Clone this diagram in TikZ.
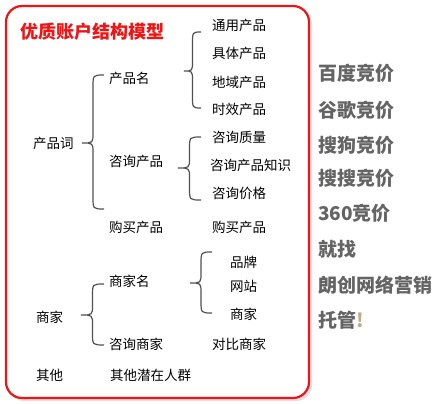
\documentclass[tikz,border=0pt]{standalone}
\usepackage{fontspec}
\setmainfont{Noto Sans CJK SC}
\newfontfamily\cjk{Noto Sans CJK SC}
\definecolor{boxred}{RGB}{240,20,20}
\definecolor{bracegray}{RGB}{80,80,80}
\definecolor{sidegray}{RGB}{100,100,100}
\definecolor{tan}{RGB}{190,170,140}
\newcommand\mybrace[6]{% name, xtip, xend, ytop, ymid, ybot
  \path[bracestyle] (#3,#4) .. controls ({(#2+#3)/2},#4) .. ({(#2+#3)/2},#4+12)
    -- ({(#2+#3)/2},#5-10) .. controls ({(#2+#3)/2},#5) .. (#2,#5)
    .. controls ({(#2+#3)/2},#5) .. ({(#2+#3)/2},#5+10)
    -- ({(#2+#3)/2},#6-12) .. controls ({(#2+#3)/2},#6) .. (#3,#6);
  \coordinate (#1) at (#2,#5);}
\tikzset{
  bracestyle/.style={draw=bracegray,line width=1.2pt},
  lbl/.style={anchor=west,inner sep=0pt,font=\cjk\fontsize{13.5}{14}\selectfont,text=black},
  side/.style={anchor=west,inner sep=0pt,font=\cjk\bfseries\fontsize{19}{20}\selectfont,text=sidegray},
}
\begin{document}
\begin{tikzpicture}[x=1pt,y=-1pt]
\useasboundingbox (0,0) rectangle (440,404);
\fill[white] (0,0) rectangle (440,404);
% shadow and frame
\fill[black!12,rounded corners=16pt] (8,8) rectangle (312,401);
\draw[boxred,line width=2.2pt,fill=white,rounded corners=16pt] (6,6) rectangle (309,398);
\node[anchor=west,inner sep=0pt,font=\cjk\bfseries\fontsize{18}{18}\selectfont,text=boxred] (title) at (20,32) {优质账户结构模型};
% level 1
\node[lbl] (cpc) at (33,143) {产品词};
\node[lbl] (sj) at (36,317) {商家};
\node[lbl] (qt) at (36,375) {其他};
% level 2
\node[lbl] (cpm) at (109,78) {产品名};
\node[lbl] (zxcp) at (109,161) {咨询产品};
\node[lbl] (gmcp) at (109,227) {购买产品};
\node[lbl] (sjm) at (109,281) {商家名};
\node[lbl] (zxsj) at (109,344) {咨询商家};
\node[lbl] (qtrq) at (110,375) {其他潜在人群};
% level 3
\node[lbl] (tycp) at (212,25) {通用产品};
\node[lbl] (jtcp) at (212,53) {具体产品};
\node[lbl] (dycp) at (212,82) {地域产品};
\node[lbl] (sxcp) at (212,109) {时效产品};
\node[lbl] (zxzl) at (212,137) {咨询质量};
\node[lbl] (zxzs) at (210,165) {咨询产品知识};
\node[lbl] (zxjg) at (212,193) {咨询价格};
\node[lbl] (gmcp2) at (212,227) {购买产品};
\node[lbl] (pp) at (230,262) {品牌};
\node[lbl] (wz) at (230,286) {网站};
\node[lbl] (sj2) at (230,314) {商家};
\node[lbl] (dbsj) at (212,344) {对比商家};
% braces
\mybrace{b1}{82}{104}{75}{143}{209}
\mybrace{b2}{184}{201}{32}{71}{108}
\mybrace{b3}{178}{201}{137}{168}{200}
\mybrace{b4}{190}{212}{252}{283}{313}
\mybrace{b5}{81}{104}{284}{315}{345}
% side text
\node[side] (s1) at (318,73) {百度竞价};
\node[side] (s2) at (318,110) {谷歌竞价};
\node[side] (s3) at (318,145) {搜狗竞价};
\node[side] (s4) at (318,178) {搜搜竞价};
\node[side] (s5) at (318,213) {360竞价};
\node[side] (s6) at (318,249) {就找};
\node[side] (s7) at (318,285) {朗创网络营销};
\node[side] (s8) at (318,320) {托管\textcolor{tan}{!}};
\end{tikzpicture}
\end{document}
